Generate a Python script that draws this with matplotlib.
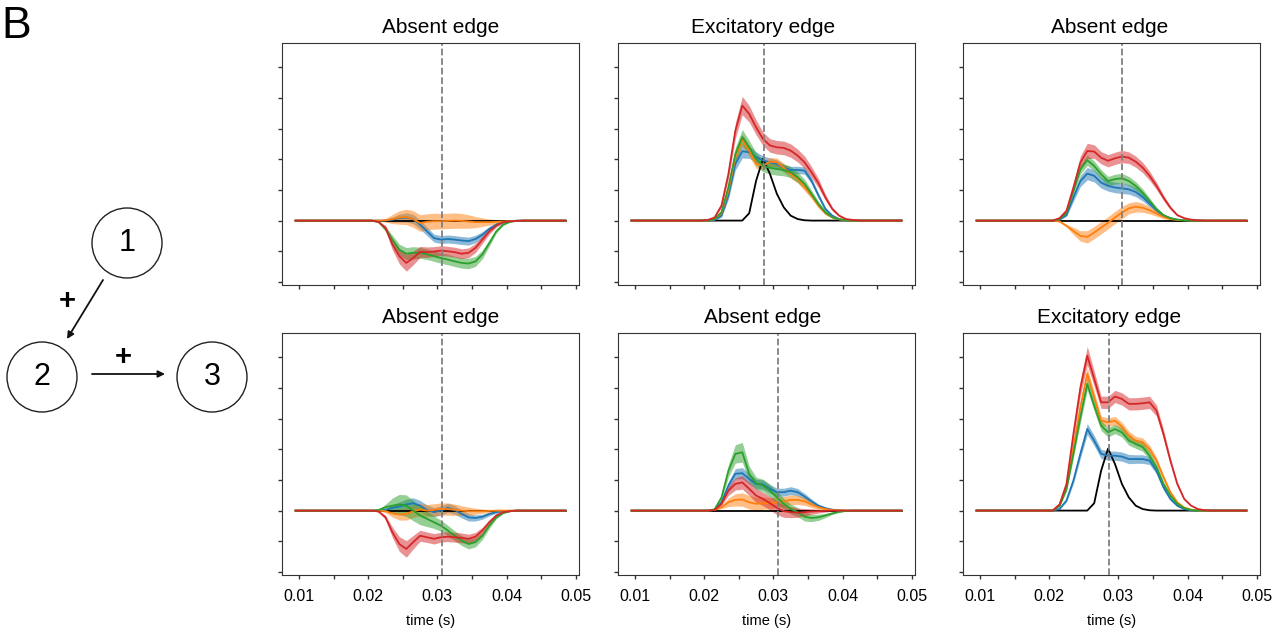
import numpy as np
import matplotlib.pyplot as plt
from matplotlib.patches import Circle

plt.rcParams['font.family'] = ['Liberation Sans', 'DejaVu Sans']

# sample times (s); traces are flat zero outside the window that starts at 0.0205 s
time = np.round(np.arange(0.0095, 0.0486, 0.001), 4)
win_start = 11

titles = ['Absent edge', 'Excitatory edge', 'Absent edge',
          'Absent edge', 'Absent edge', 'Excitatory edge']
marker_t = [0.0306, 0.0286, 0.0305, 0.0307, 0.0306, 0.0286]
xtick_vals = [0.01, 0.015, 0.02, 0.025, 0.03, 0.035, 0.04, 0.045, 0.05]
xtick_labels = ['0.01', '', '0.02', '', '0.03', '', '0.04', '', '0.05']
ytick_vals = [-2, -1, 0, 1, 2, 3, 4, 5]

# ground truth trace for excitatory edges
truth_exc = [0, 0, 0, 0, 0, 0, 0.24, 1.30, 2.02, 1.52, 0.87, 0.43, 0.16, 0.05, 0.01, 0, 0, 0, 0, 0, 0, 0, 0]
truth_abs = [0] * 23

# panel 1 (top left)
p1_blue = [0, 0, 0, 0.03, 0.08, 0.10, 0.05, -0.13, -0.35, -0.57, -0.62, -0.60, -0.62, -0.65, -0.67, -0.60, -0.46, -0.27, -0.13, -0.05, -0.02, 0, 0]
p1_blue_sem = [0, 0.01, 0.03, 0.08, 0.13, 0.15, 0.15, 0.15, 0.14, 0.13, 0.13, 0.13, 0.13, 0.13, 0.13, 0.12, 0.10, 0.08, 0.05, 0.03, 0.01, 0, 0]
p1_orange = [0, 0, 0.01, 0.05, 0.10, 0.12, 0.05, -0.08, -0.04, -0.02, -0.02, -0.01, 0, -0.01, -0.03, -0.05, -0.05, -0.05, -0.04, -0.03, -0.02, -0.01, 0]
p1_orange_sem = [0, 0.02, 0.06, 0.15, 0.22, 0.25, 0.27, 0.27, 0.26, 0.26, 0.25, 0.25, 0.25, 0.24, 0.22, 0.18, 0.14, 0.10, 0.07, 0.04, 0.02, 0.01, 0]
p1_green = [0, -0.05, -0.27, -0.62, -0.95, -1.08, -1.05, -1.05, -1.10, -1.16, -1.22, -1.27, -1.33, -1.38, -1.40, -1.33, -1.10, -0.73, -0.35, -0.13, -0.04, -0.01, 0]
p1_green_sem = [0, 0.02, 0.08, 0.14, 0.18, 0.20, 0.20, 0.18, 0.17, 0.17, 0.17, 0.17, 0.17, 0.17, 0.17, 0.16, 0.14, 0.10, 0.06, 0.03, 0.01, 0, 0]
p1_red = [0, -0.04, -0.24, -0.78, -1.16, -1.38, -1.22, -1.02, -1.03, -1.01, -0.98, -1.00, -1.03, -1.08, -1.05, -0.89, -0.62, -0.35, -0.16, -0.05, -0.02, -0.01, 0]
p1_red_sem = [0, 0.02, 0.08, 0.18, 0.25, 0.27, 0.22, 0.18, 0.17, 0.16, 0.16, 0.16, 0.16, 0.16, 0.16, 0.15, 0.12, 0.09, 0.05, 0.03, 0.01, 0, 0]

# panel 2 (top middle)
p2_blue = [0, 0.02, 0.16, 0.82, 1.85, 2.26, 2.23, 2.07, 1.96, 1.90, 1.85, 1.72, 1.65, 1.65, 1.63, 1.30, 0.82, 0.38, 0.16, 0.05, 0.01, 0, 0]
p2_blue_sem = [0, 0.01, 0.05, 0.12, 0.20, 0.22, 0.20, 0.17, 0.15, 0.14, 0.13, 0.12, 0.12, 0.12, 0.12, 0.10, 0.08, 0.05, 0.03, 0.01, 0, 0, 0]
p2_orange = [0, 0.05, 0.24, 0.98, 2.07, 2.63, 2.28, 1.85, 1.79, 1.92, 1.90, 1.72, 1.52, 1.36, 1.09, 0.82, 0.49, 0.24, 0.11, 0.04, 0.01, 0, 0]
p2_orange_sem = [0, 0.01, 0.05, 0.12, 0.18, 0.20, 0.18, 0.15, 0.14, 0.14, 0.14, 0.14, 0.14, 0.13, 0.12, 0.10, 0.08, 0.05, 0.03, 0.01, 0, 0, 0]
p2_green = [0, 0.05, 0.27, 1.09, 2.17, 2.72, 2.39, 2.01, 1.79, 1.72, 1.68, 1.65, 1.58, 1.41, 1.20, 0.87, 0.54, 0.27, 0.11, 0.04, 0.01, 0, 0]
p2_green_sem = [0, 0.01, 0.05, 0.14, 0.22, 0.25, 0.22, 0.20, 0.20, 0.20, 0.20, 0.19, 0.18, 0.17, 0.15, 0.12, 0.09, 0.06, 0.03, 0.01, 0, 0, 0]
p2_red = [0.02, 0.10, 0.49, 1.52, 2.93, 3.75, 3.48, 3.04, 2.66, 2.45, 2.39, 2.37, 2.28, 2.12, 1.90, 1.58, 1.22, 0.76, 0.38, 0.16, 0.05, 0.02, 0]
p2_red_sem = [0, 0.02, 0.06, 0.15, 0.25, 0.30, 0.27, 0.24, 0.22, 0.22, 0.22, 0.22, 0.22, 0.21, 0.20, 0.18, 0.15, 0.10, 0.06, 0.03, 0.01, 0, 0]

# panel 3 (top right)
p3_blue = [0, 0.03, 0.18, 0.75, 1.29, 1.53, 1.46, 1.24, 1.13, 1.08, 1.05, 1.02, 0.93, 0.77, 0.55, 0.34, 0.16, 0.08, 0.03, 0.01, 0, 0, 0]
p3_blue_sem = [0, 0.01, 0.04, 0.12, 0.18, 0.20, 0.20, 0.18, 0.17, 0.17, 0.17, 0.16, 0.15, 0.13, 0.10, 0.07, 0.04, 0.02, 0.01, 0, 0, 0, 0]
p3_orange = [0, -0.03, -0.17, -0.34, -0.50, -0.53, -0.39, -0.23, -0.07, 0.10, 0.26, 0.40, 0.45, 0.42, 0.34, 0.23, 0.12, 0.05, 0.02, 0.01, 0, 0, 0]
p3_orange_sem = [0, 0.01, 0.05, 0.12, 0.17, 0.20, 0.20, 0.20, 0.20, 0.20, 0.20, 0.18, 0.17, 0.15, 0.12, 0.09, 0.06, 0.03, 0.01, 0, 0, 0, 0]
p3_green = [0, 0.05, 0.26, 0.97, 1.67, 1.97, 1.78, 1.51, 1.29, 1.35, 1.38, 1.29, 1.13, 0.91, 0.64, 0.37, 0.18, 0.08, 0.03, 0.01, 0, 0, 0]
p3_green_sem = [0, 0.01, 0.04, 0.12, 0.15, 0.17, 0.16, 0.15, 0.15, 0.16, 0.16, 0.15, 0.14, 0.12, 0.10, 0.07, 0.04, 0.02, 0.01, 0, 0, 0, 0]
p3_red = [0, 0.08, 0.32, 1.08, 1.89, 2.27, 2.25, 2.05, 1.95, 2.03, 2.09, 2.05, 1.92, 1.73, 1.46, 1.13, 0.75, 0.42, 0.18, 0.08, 0.03, 0.01, 0]
p3_red_sem = [0, 0.02, 0.05, 0.14, 0.22, 0.25, 0.22, 0.20, 0.20, 0.20, 0.20, 0.19, 0.18, 0.17, 0.15, 0.12, 0.09, 0.06, 0.03, 0.01, 0, 0, 0]

# panel 4 (bottom left)
p4_blue = [0, 0, 0.02, 0.09, 0.13, 0.20, 0.24, 0.16, 0.02, -0.05, 0, 0.09, 0.02, -0.11, -0.22, -0.24, -0.20, -0.11, -0.05, -0.02, -0.01, 0, 0]
p4_blue_sem = [0, 0.01, 0.04, 0.10, 0.15, 0.17, 0.18, 0.17, 0.16, 0.15, 0.15, 0.15, 0.14, 0.13, 0.12, 0.10, 0.08, 0.06, 0.04, 0.02, 0.01, 0, 0]
p4_orange = [0, 0, -0.02, -0.09, -0.13, -0.11, -0.02, 0.03, 0, 0.02, 0.05, 0.05, 0.03, 0, -0.02, -0.02, -0.02, -0.01, 0, 0, 0, 0, 0]
p4_orange_sem = [0, 0.01, 0.05, 0.12, 0.18, 0.20, 0.20, 0.20, 0.20, 0.20, 0.20, 0.20, 0.18, 0.16, 0.13, 0.10, 0.07, 0.05, 0.03, 0.02, 0.01, 0, 0]
p4_green = [0, 0.02, 0.11, 0.16, 0.20, 0.16, 0, -0.16, -0.27, -0.38, -0.49, -0.65, -0.82, -0.98, -1.09, -1.03, -0.82, -0.49, -0.22, -0.08, -0.02, 0, 0]
p4_green_sem = [0, 0.02, 0.10, 0.25, 0.33, 0.35, 0.33, 0.30, 0.25, 0.20, 0.18, 0.17, 0.16, 0.16, 0.16, 0.15, 0.12, 0.09, 0.05, 0.02, 0.01, 0, 0]
p4_red = [0, -0.03, -0.22, -0.71, -1.09, -1.25, -1.03, -0.82, -0.87, -0.92, -0.87, -0.85, -0.87, -0.89, -0.92, -0.85, -0.65, -0.38, -0.16, -0.05, -0.02, 0, 0]
p4_red_sem = [0, 0.02, 0.07, 0.17, 0.24, 0.27, 0.22, 0.18, 0.17, 0.17, 0.16, 0.16, 0.16, 0.16, 0.15, 0.14, 0.11, 0.08, 0.05, 0.02, 0.01, 0, 0]

# panel 5 (bottom middle)
p5_blue = [0, 0.02, 0.27, 0.82, 1.20, 1.22, 1.03, 0.87, 0.85, 0.71, 0.60, 0.60, 0.65, 0.60, 0.46, 0.30, 0.16, 0.08, 0.03, 0.01, 0, 0, 0]
p5_blue_sem = [0, 0.01, 0.05, 0.12, 0.17, 0.18, 0.17, 0.15, 0.15, 0.14, 0.13, 0.13, 0.13, 0.12, 0.10, 0.08, 0.05, 0.03, 0.01, 0, 0, 0, 0]
p5_orange = [0, 0.02, 0.11, 0.27, 0.35, 0.36, 0.27, 0.22, 0.24, 0.24, 0.27, 0.30, 0.35, 0.35, 0.30, 0.20, 0.11, 0.05, 0.02, 0.01, 0, 0, 0]
p5_orange_sem = [0, 0.01, 0.05, 0.14, 0.20, 0.22, 0.22, 0.22, 0.20, 0.18, 0.17, 0.16, 0.16, 0.15, 0.13, 0.10, 0.07, 0.04, 0.02, 0.01, 0, 0, 0]
p5_green = [0, 0.04, 0.43, 1.30, 1.85, 1.90, 1.20, 0.89, 0.82, 0.65, 0.43, 0.22, 0.05, -0.05, -0.20, -0.24, -0.22, -0.16, -0.09, -0.04, -0.01, 0, 0]
p5_green_sem = [0, 0.02, 0.08, 0.20, 0.30, 0.32, 0.25, 0.20, 0.20, 0.20, 0.20, 0.18, 0.16, 0.15, 0.14, 0.12, 0.10, 0.07, 0.04, 0.02, 0.01, 0, 0]
p5_red = [0, 0.02, 0.22, 0.65, 0.87, 0.92, 0.71, 0.49, 0.38, 0.24, 0.09, -0.02, -0.05, -0.07, -0.05, -0.03, -0.02, -0.01, 0, 0, 0, 0, 0]
p5_red_sem = [0, 0.01, 0.06, 0.15, 0.20, 0.22, 0.22, 0.22, 0.22, 0.22, 0.22, 0.20, 0.18, 0.15, 0.12, 0.09, 0.06, 0.04, 0.02, 0.01, 0, 0, 0]

# panel 6 (bottom right)
p6_blue = [0, 0.05, 0.33, 0.98, 1.85, 2.66, 2.28, 1.85, 1.79, 1.79, 1.76, 1.68, 1.68, 1.68, 1.63, 1.30, 0.76, 0.38, 0.16, 0.05, 0.01, 0, 0]
p6_blue_sem = [0, 0.01, 0.05, 0.10, 0.15, 0.18, 0.17, 0.15, 0.15, 0.15, 0.15, 0.15, 0.14, 0.14, 0.13, 0.11, 0.08, 0.05, 0.03, 0.01, 0, 0, 0]
p6_orange = [0, 0.20, 0.76, 2.07, 3.37, 4.46, 3.70, 2.93, 2.88, 2.93, 2.74, 2.45, 2.28, 2.23, 2.00, 1.63, 1.09, 0.60, 0.27, 0.10, 0.03, 0, 0]
p6_orange_sem = [0, 0.02, 0.06, 0.12, 0.18, 0.20, 0.18, 0.15, 0.14, 0.14, 0.14, 0.14, 0.14, 0.14, 0.13, 0.11, 0.08, 0.05, 0.03, 0.01, 0, 0, 0]
p6_green = [0, 0.15, 0.70, 1.85, 3.04, 4.13, 3.42, 2.77, 2.55, 2.66, 2.55, 2.28, 2.17, 2.07, 1.79, 1.41, 0.87, 0.49, 0.22, 0.08, 0.02, 0, 0]
p6_green_sem = [0, 0.02, 0.06, 0.12, 0.18, 0.20, 0.18, 0.16, 0.15, 0.15, 0.15, 0.15, 0.14, 0.14, 0.13, 0.11, 0.08, 0.05, 0.03, 0.01, 0, 0, 0]
p6_red = [0, 0.20, 0.87, 2.50, 4.00, 5.05, 4.30, 3.53, 3.53, 3.72, 3.64, 3.48, 3.48, 3.50, 3.53, 3.26, 2.50, 1.63, 0.87, 0.38, 0.16, 0.05, 0.01]
p6_red_sem = [0, 0.02, 0.07, 0.15, 0.25, 0.30, 0.25, 0.20, 0.20, 0.20, 0.20, 0.20, 0.20, 0.20, 0.20, 0.18, 0.15, 0.10, 0.06, 0.03, 0.01, 0, 0]

panels = [
    (truth_abs, [(p1_blue, p1_blue_sem), (p1_orange, p1_orange_sem), (p1_green, p1_green_sem), (p1_red, p1_red_sem)]),
    (truth_exc, [(p2_blue, p2_blue_sem), (p2_orange, p2_orange_sem), (p2_green, p2_green_sem), (p2_red, p2_red_sem)]),
    (truth_abs, [(p3_blue, p3_blue_sem), (p3_orange, p3_orange_sem), (p3_green, p3_green_sem), (p3_red, p3_red_sem)]),
    (truth_abs, [(p4_blue, p4_blue_sem), (p4_orange, p4_orange_sem), (p4_green, p4_green_sem), (p4_red, p4_red_sem)]),
    (truth_abs, [(p5_blue, p5_blue_sem), (p5_orange, p5_orange_sem), (p5_green, p5_green_sem), (p5_red, p5_red_sem)]),
    (truth_exc, [(p6_blue, p6_blue_sem), (p6_orange, p6_orange_sem), (p6_green, p6_green_sem), (p6_red, p6_red_sem)]),
]
colors = ['#1f77b4', '#ff7f0e', '#2ca02c', '#d62728']


def pad(v):
    full = np.zeros(len(time))
    full[win_start:win_start + len(v)] = v
    return full


W, H = 1288, 631
fig = plt.figure(figsize=(W / 100, H / 100), dpi=100)

col_left = [282, 618, 963]
title_x = [0.535, 0.488, 0.493]
row_top = [43, 333]
ax_w, ax_h = 297, 242

for i, (truth, series) in enumerate(panels):
    r, c = divmod(i, 3)
    ax = fig.add_axes([col_left[c] / W, 1 - (row_top[r] + ax_h) / H, ax_w / W, ax_h / H])
    ax.plot(time, pad(truth), color='k', lw=1.3)
    for (m, s), col in zip(series, colors):
        m = pad(m)
        s = pad(s)
        ax.fill_between(time, m - s, m + s, color=col, alpha=0.5, lw=0)
        ax.plot(time, m, color=col, lw=1.3)
    ax.axvline(marker_t[i], color='gray', ls='--', lw=1.3)
    ax.set_xlim(0.00755, 0.05045)
    ax.set_ylim(-2.1, 5.79)
    ax.set_xticks(xtick_vals)
    ax.set_yticks(ytick_vals)
    ax.set_yticklabels([])
    ax.tick_params(length=3, width=1, color='#333333', pad=7)
    if r == 1:
        ax.set_xticklabels(xtick_labels, fontsize=11.5)
        ax.set_xlabel('time (s)', fontsize=10.5, labelpad=7)
    else:
        ax.set_xticklabels([])
    ax.set_title(titles[i], fontsize=15, pad=7, x=title_x[c])
    for sp in ax.spines.values():
        sp.set_color('#333333')

# network diagram
dx0, dy0, dx1, dy1 = 0, 190, 260, 430
dax = fig.add_axes([dx0 / W, 1 - dy1 / H, (dx1 - dx0) / W, (dy1 - dy0) / H])
dax.set_xlim(dx0, dx1)
dax.set_ylim(dy1, dy0)
dax.axis('off')
nodes = {'1': (127, 243), '2': (42, 377), '3': (212, 377)}
for lab, (cx, cy) in nodes.items():
    dax.add_patch(Circle((cx, cy), 35, fill=False, ec='#222222', lw=1))
    dax.text(cx, cy, lab, ha='center', va='center', fontsize=22)
dax.annotate('', xy=(67, 339), xytext=(103, 280),
             arrowprops=dict(arrowstyle='-|>', color='#111111', lw=1.3, mutation_scale=10, shrinkA=0, shrinkB=0))
dax.annotate('', xy=(165, 374), xytext=(92, 374),
             arrowprops=dict(arrowstyle='-|>', color='#111111', lw=1.3, mutation_scale=10, shrinkA=0, shrinkB=0))
dax.text(67, 301, '+', ha='center', va='center', fontsize=21, fontweight='bold')
dax.text(123, 357, '+', ha='center', va='center', fontsize=21, fontweight='bold')

fig.text(1 / W, 1 - 6 / H, 'B', fontsize=32, ha='left', va='top')

fig.savefig('out.png', dpi=100)
